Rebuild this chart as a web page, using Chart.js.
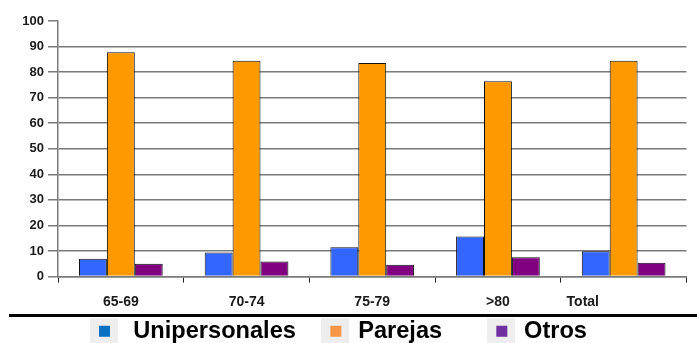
<!DOCTYPE html>
<html>
<head>
<meta charset="utf-8">
<script src="https://cdn.jsdelivr.net/npm/chart.js@4/dist/chart.umd.min.js"></script>
<style>
  html, body { margin: 0; padding: 0; background: #fff; overflow: hidden; }
  body { width: 697px; height: 343px; }
  #wrap { position: relative; width: 697px; height: 353px; }
</style>
</head>
<body>
<div id="wrap"><canvas id="c"></canvas></div>
<script>
// Age groups and household type shares (%)
const categories = ['65-69', '70-74', '75-79', '>80', 'Total'];
const unipersonales = [7.0, 9.4, 11.5, 15.7, 9.9];
const parejas = [87.8, 84.4, 83.6, 76.4, 84.4];
const otros = [5.0, 5.9, 4.6, 7.6, 5.4];
const yTicks = [0, 10, 20, 30, 40, 50, 60, 70, 80, 90, 100];

const seriesNames = ['Unipersonales', 'Parejas', 'Otros'];
const barColors = ['#3366ff', '#ff9900', '#800080'];
const legendColors = ['#0a70c4', '#f79646', '#7030a0'];

const FONT = '"Liberation Sans", Arial, sans-serif';
const GRID = '#7a7a7a';
const NB = '\u00a0';

// spacing around each legend entry (leading / trailing blanks)
const legendLead = [1, 0, 0];
const legendTrail = [3, 6, 1];

// legend marker: small coloured square on a pale tile
function markerTile(color) {
  const c = document.createElement('canvas');
  c.width = 28; c.height = 27;
  const g = c.getContext('2d');
  g.fillStyle = '#eeeeee';
  g.fillRect(0, 0, 28, 27);
  g.fillStyle = color;
  g.fillRect(9, 8, 11, 11);
  return c;
}
const tiles = legendColors.map(markerTile);

// heavy rule above the legend
const rulePlugin = {
  id: 'rule',
  afterDraw(chart) {
    const ctx = chart.ctx;
    ctx.save();
    ctx.fillStyle = '#000';
    ctx.fillRect(9, 314, 688, 3);
    ctx.restore();
  }
};

new Chart(document.getElementById('c'), {
  type: 'bar',
  data: {
    labels: categories,
    datasets: [unipersonales, parejas, otros].map((d, i) => ({
      label: seriesNames[i],
      data: d,
      backgroundColor: barColors[i],
      borderColor: '#111',
      borderWidth: 1,
      borderSkipped: 'bottom',
      barPercentage: 1.0,
      categoryPercentage: 0.666
    }))
  },
  options: {
    responsive: true,
    maintainAspectRatio: false,
    animation: false,
    layout: { padding: { left: 0, right: 10.5, top: 21, bottom: 0 } },
    plugins: {
      title: { display: false },
      tooltip: { enabled: false },
      legend: {
        position: 'bottom',
        align: 'center',
        labels: {
          usePointStyle: true,
          pointStyleWidth: 22,
          padding: 8.8,
          color: '#000',
          font: { family: FONT, size: 23.6, weight: 'bold' },
          generateLabels(chart) {
            return chart.data.datasets.map((ds, i) => ({
              text: NB.repeat(legendLead[i]) + ds.label + NB.repeat(legendTrail[i]),
              pointStyle: tiles[i],
              fillStyle: legendColors[i],
              strokeStyle: 'transparent',
              lineWidth: 0,
              fontColor: '#000',
              datasetIndex: i
            }));
          }
        }
      }
    },
    scales: {
      x: {
        offset: true,
        border: { display: true, color: GRID, width: 1.5 },
        grid: {
          offset: true,
          drawOnChartArea: false,
          drawTicks: true,
          tickLength: 6,
          tickColor: '#222',
          tickWidth: 1
        },
        ticks: {
          padding: 11.6,
          color: '#1a1a1a',
          font: { family: FONT, size: 14, weight: 'bold' },
          autoSkip: false,
          maxRotation: 0,
          callback: (v, i) => i === categories.length - 1
            ? categories[i] + NB.repeat(21)
            : categories[i]
        },
        afterFit(scale) { scale.height = 34; }
      },
      y: {
        min: 0,
        max: 100,
        border: { display: true, color: GRID, width: 1.5 },
        grid: {
          color: ctx => (ctx.tick && ctx.tick.value === 100) ? 'rgba(0,0,0,0)' : GRID,
          lineWidth: 1.5,
          tickColor: GRID,
          tickLength: 10
        },
        afterBuildTicks(scale) { scale.ticks = yTicks.map(v => ({ value: v })); },
        ticks: {
          padding: 4,
          color: '#1a1a1a',
          font: { family: FONT, size: 13, weight: 'bold' }
        },
        afterFit(scale) { scale.width = 58; }
      }
    }
  },
  plugins: [rulePlugin]
});
</script>
</body>
</html>
